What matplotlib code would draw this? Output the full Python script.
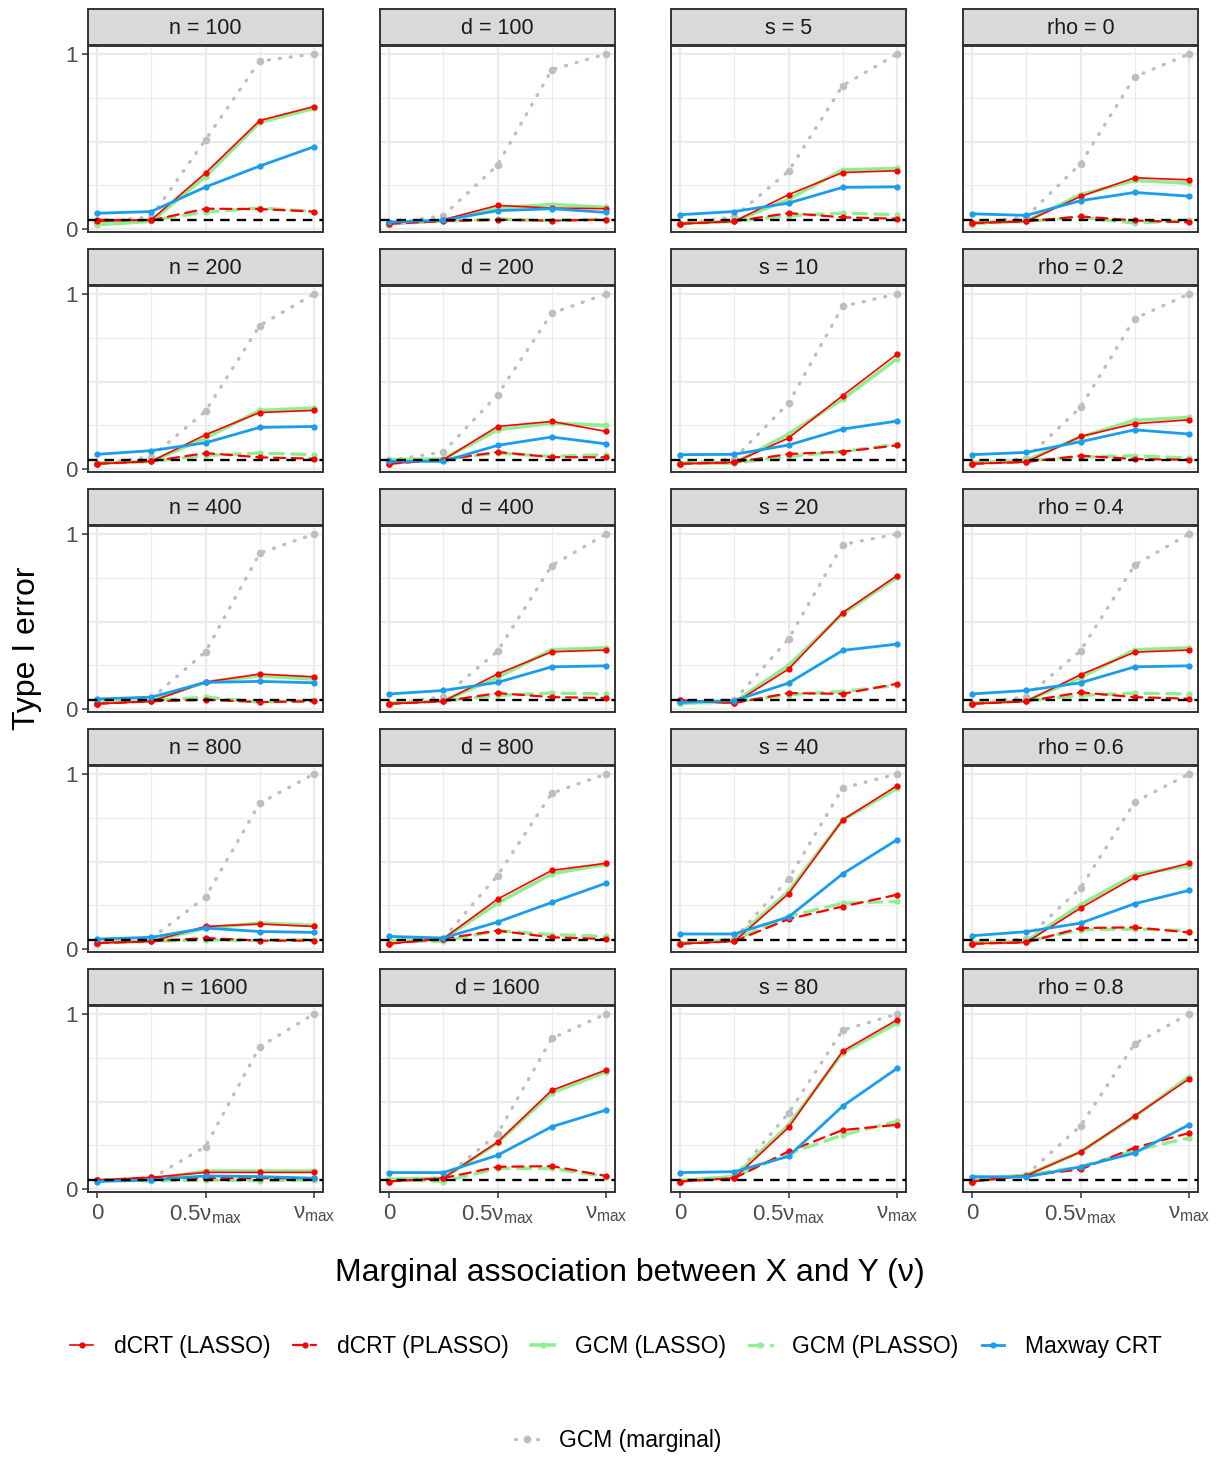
import matplotlib
matplotlib.use("Agg")
import matplotlib.pyplot as plt
from matplotlib.lines import Line2D

plt.rcParams['font.family'] = ['Liberation Sans', 'DejaVu Sans']
plt.rcParams['mathtext.fontset'] = 'custom'
plt.rcParams['mathtext.rm'] = 'Liberation Sans'

# x positions (fraction of nu_max)
nu = [0, 0.25, 0.5, 0.75, 1]
x_tick_labels = ['0', '0.5ν$_{\\mathregular{max}}$', 'ν$_{\\mathregular{max}}$']

facet_labels = [
    'n = 100', 'd = 100', 's = 5', 'rho = 0',
    'n = 200', 'd = 200', 's = 10', 'rho = 0.2',
    'n = 400', 'd = 400', 's = 20', 'rho = 0.4',
    'n = 800', 'd = 800', 's = 40', 'rho = 0.6',
    'n = 1600', 'd = 1600', 's = 80', 'rho = 0.8',
]

dcrt_lasso = [
    [0.044, 0.053, 0.32, 0.62, 0.70], [0.034, 0.053, 0.135, 0.12, 0.116],
    [0.03, 0.044, 0.196, 0.323, 0.333], [0.034, 0.044, 0.186, 0.293, 0.281],
    [0.03, 0.044, 0.196, 0.323, 0.335], [0.03, 0.053, 0.243, 0.272, 0.215],
    [0.03, 0.038, 0.177, 0.42, 0.656], [0.03, 0.04, 0.186, 0.259, 0.281],
    [0.03, 0.044, 0.154, 0.20, 0.184], [0.03, 0.044, 0.20, 0.327, 0.337],
    [0.05, 0.034, 0.228, 0.551, 0.762], [0.03, 0.044, 0.196, 0.325, 0.337],
    [0.034, 0.044, 0.129, 0.143, 0.129], [0.03, 0.059, 0.285, 0.449, 0.49],
    [0.03, 0.044, 0.316, 0.738, 0.933], [0.03, 0.038, 0.234, 0.41, 0.49],
    [0.05, 0.067, 0.095, 0.095, 0.095], [0.043, 0.062, 0.268, 0.564, 0.68],
    [0.043, 0.062, 0.352, 0.788, 0.966], [0.043, 0.077, 0.212, 0.418, 0.629],
]
dcrt_plasso = [
    [0.053, 0.05, 0.116, 0.114, 0.10], [0.03, 0.045, 0.053, 0.048, 0.053],
    [0.03, 0.044, 0.091, 0.067, 0.059], [0.034, 0.044, 0.072, 0.049, 0.038],
    [0.03, 0.044, 0.091, 0.067, 0.059], [0.03, 0.053, 0.097, 0.068, 0.067],
    [0.03, 0.038, 0.086, 0.099, 0.135], [0.03, 0.04, 0.076, 0.057, 0.053],
    [0.03, 0.044, 0.053, 0.04, 0.044], [0.03, 0.044, 0.091, 0.068, 0.063],
    [0.05, 0.034, 0.091, 0.087, 0.144], [0.03, 0.044, 0.095, 0.068, 0.059],
    [0.034, 0.044, 0.063, 0.048, 0.048], [0.03, 0.059, 0.105, 0.067, 0.057],
    [0.03, 0.044, 0.171, 0.243, 0.31], [0.03, 0.038, 0.12, 0.124, 0.095],
    [0.05, 0.067, 0.062, 0.062, 0.062], [0.043, 0.062, 0.127, 0.131, 0.075],
    [0.043, 0.062, 0.215, 0.337, 0.367], [0.043, 0.077, 0.112, 0.236, 0.32],
]
gcm_lasso = [
    [0.025, 0.044, 0.30, 0.61, 0.69], [0.03, 0.05, 0.12, 0.14, 0.124],
    [0.034, 0.044, 0.17, 0.338, 0.346], [0.038, 0.044, 0.196, 0.278, 0.262],
    [0.034, 0.044, 0.177, 0.335, 0.348], [0.053, 0.057, 0.224, 0.262, 0.249],
    [0.034, 0.034, 0.20, 0.40, 0.63], [0.038, 0.049, 0.183, 0.278, 0.295],
    [0.038, 0.047, 0.154, 0.19, 0.171], [0.034, 0.047, 0.18, 0.338, 0.35],
    [0.034, 0.04, 0.249, 0.544, 0.753], [0.034, 0.047, 0.18, 0.338, 0.35],
    [0.038, 0.044, 0.12, 0.148, 0.135], [0.047, 0.059, 0.262, 0.43, 0.485],
    [0.034, 0.053, 0.329, 0.738, 0.918], [0.038, 0.044, 0.253, 0.424, 0.477],
    [0.05, 0.052, 0.103, 0.103, 0.103], [0.056, 0.062, 0.264, 0.549, 0.67],
    [0.047, 0.071, 0.365, 0.779, 0.948], [0.052, 0.08, 0.212, 0.414, 0.642],
]
gcm_plasso = [
    [0.034, 0.05, 0.097, 0.12, 0.10], [0.03, 0.045, 0.057, 0.048, 0.057],
    [0.03, 0.044, 0.076, 0.091, 0.082], [0.03, 0.044, 0.067, 0.034, 0.049],
    [0.034, 0.044, 0.078, 0.091, 0.082], [0.053, 0.057, 0.091, 0.072, 0.082],
    [0.034, 0.034, 0.072, 0.10, 0.141], [0.038, 0.049, 0.068, 0.076, 0.063],
    [0.038, 0.047, 0.068, 0.038, 0.051], [0.034, 0.047, 0.078, 0.091, 0.086],
    [0.034, 0.04, 0.082, 0.10, 0.135], [0.034, 0.047, 0.078, 0.091, 0.086],
    [0.038, 0.044, 0.053, 0.048, 0.053], [0.047, 0.044, 0.105, 0.082, 0.072],
    [0.034, 0.053, 0.186, 0.262, 0.272], [0.038, 0.044, 0.11, 0.114, 0.105],
    [0.05, 0.047, 0.052, 0.048, 0.052], [0.056, 0.043, 0.118, 0.118, 0.071],
    [0.047, 0.071, 0.202, 0.309, 0.386], [0.052, 0.08, 0.127, 0.221, 0.292],
]
maxway_crt = [
    [0.09, 0.10, 0.24, 0.36, 0.47], [0.04, 0.05, 0.105, 0.116, 0.095],
    [0.082, 0.10, 0.148, 0.238, 0.241], [0.087, 0.078, 0.162, 0.209, 0.188],
    [0.084, 0.105, 0.15, 0.238, 0.243], [0.044, 0.044, 0.135, 0.183, 0.144],
    [0.082, 0.084, 0.137, 0.228, 0.274], [0.082, 0.095, 0.156, 0.224, 0.20],
    [0.057, 0.068, 0.152, 0.158, 0.15], [0.086, 0.106, 0.152, 0.241, 0.247],
    [0.038, 0.048, 0.148, 0.335, 0.371], [0.086, 0.106, 0.15, 0.241, 0.247],
    [0.057, 0.067, 0.12, 0.10, 0.095], [0.072, 0.063, 0.154, 0.266, 0.376],
    [0.086, 0.086, 0.183, 0.43, 0.624], [0.076, 0.099, 0.148, 0.259, 0.335],
    [0.043, 0.052, 0.075, 0.071, 0.062], [0.094, 0.094, 0.193, 0.356, 0.451],
    [0.094, 0.099, 0.187, 0.474, 0.689], [0.071, 0.069, 0.127, 0.206, 0.367],
]
gcm_marginal = [
    [0.04, 0.07, 0.51, 0.96, 1.0], [0.03, 0.076, 0.365, 0.91, 1.0],
    [0.03, 0.07, 0.33, 0.82, 1.0], [0.03, 0.07, 0.373, 0.87, 1.0],
    [0.03, 0.07, 0.33, 0.82, 1.0], [0.05, 0.097, 0.424, 0.89, 1.0],
    [0.03, 0.06, 0.376, 0.93, 1.0], [0.03, 0.06, 0.352, 0.86, 1.0],
    [0.03, 0.06, 0.327, 0.89, 1.0], [0.03, 0.07, 0.33, 0.82, 1.0],
    [0.04, 0.05, 0.40, 0.94, 1.0], [0.03, 0.07, 0.333, 0.823, 1.0],
    [0.03, 0.06, 0.297, 0.833, 1.0], [0.04, 0.06, 0.42, 0.89, 1.0],
    [0.03, 0.06, 0.40, 0.92, 1.0], [0.03, 0.06, 0.348, 0.84, 1.0],
    [0.05, 0.06, 0.243, 0.813, 1.0], [0.05, 0.06, 0.315, 0.861, 1.0],
    [0.04, 0.07, 0.433, 0.908, 1.0], [0.04, 0.08, 0.361, 0.83, 1.0],
]
alpha_level = 0.05

RED, GREEN, BLUE, GREY = '#FF0000', '#90EE90', '#1A9CEF', '#BEBEBE'

# (label, data, color, linestyle, linewidth, markersize, zorder)
series = [
    ('GCM (marginal)', gcm_marginal, GREY, (0, (0.3, 3.0)), 2.4, 5.5, 2),
    ('GCM (LASSO)', gcm_lasso, GREEN, '-', 2.6, 4.5, 3),
    ('GCM (PLASSO)', gcm_plasso, GREEN, (0, (4, 2.5)), 2.4, 4.5, 3),
    ('dCRT (LASSO)', dcrt_lasso, RED, '-', 1.2, 4.5, 4),
    ('dCRT (PLASSO)', dcrt_plasso, RED, (0, (5, 3)), 1.6, 4.5, 4),
    ('Maxway CRT', maxway_crt, BLUE, '-', 2.0, 4.5, 5),
]

W, H = 1221, 1458
fig = plt.figure(figsize=(W / 100, H / 100), dpi=100)

col_left = [88, 380, 671, 963]
panel_w = 235
row_top = [46, 286, 526, 766, 1006]
panel_h = 186
strip_h = 36

for i, label in enumerate(facet_labels):
    r, c = divmod(i, 4)
    x0, y0 = col_left[c], row_top[r]
    ax = fig.add_axes([x0 / W, 1 - (y0 + panel_h) / H, panel_w / W, panel_h / H])
    ax.set_xlim(-0.042, 1.042)
    ax.set_ylim(-0.017, 1.046)
    for g in [0.25, 0.75]:
        ax.axvline(g, color='#EBEBEB', lw=0.8, zorder=0)
        ax.axhline(g, color='#EBEBEB', lw=0.8, zorder=0)
    for g in [0, 0.5, 1]:
        ax.axvline(g, color='#EBEBEB', lw=1.6, zorder=0)
        ax.axhline(g, color='#EBEBEB', lw=1.6, zorder=0)
    for name, data, col, ls, lw, ms, z in series:
        ax.plot(nu, data[i], color=col, linestyle=ls, lw=lw, marker='o',
                ms=ms, mec='none', zorder=z, dash_capstyle='round')
    ax.axhline(alpha_level, color='black', linestyle=(0, (4, 3)), lw=1.7, zorder=6)

    for sp in ax.spines.values():
        sp.set_color('#333333')
        sp.set_linewidth(1.4)
    ax.set_yticks([0, 1])
    ax.set_xticks([0, 0.5, 1])
    ax.tick_params(colors='#333333', length=4, width=1.1, labelsize=16,
                   labelcolor='#4D4D4D')
    if c == 0:
        ax.set_yticklabels(['0', '1'])
    else:
        ax.tick_params(axis='y', length=0, labelleft=False)
    if r == 4:
        ax.set_xticklabels(x_tick_labels)
        ax.tick_params(axis='x', pad=4)
    else:
        ax.tick_params(axis='x', length=0, labelbottom=False)

    sax = fig.add_axes([x0 / W, 1 - (y0 - 1) / H, panel_w / W, strip_h / H])
    sax.set_facecolor('#D9D9D9')
    sax.set_xticks([])
    sax.set_yticks([])
    for sp in sax.spines.values():
        sp.set_color('#333333')
        sp.set_linewidth(1.4)
    sax.text(0.5, 0.45, label, ha='center', va='center', fontsize=15.5,
             color='#1A1A1A', transform=sax.transAxes)

fig.text(27 / W, 1 - 648 / H, 'Type I error', rotation=90, ha='center',
         va='center', fontsize=23)
fig.text(630 / W, 1 - 1273 / H, 'Marginal association between X and Y (ν)',
         ha='center', va='center', fontsize=23)

handles = {}
for name, data, col, ls, lw, ms, z in series:
    handles[name] = Line2D([], [], color=col, linestyle=ls, lw=lw, marker='o',
                           ms=ms, mec='none', dash_capstyle='round')
order = ['dCRT (LASSO)', 'dCRT (PLASSO)', 'GCM (LASSO)', 'GCM (PLASSO)', 'Maxway CRT']
fig.legend([handles[k] for k in order], order, loc='center',
           bbox_to_anchor=(616 / W, 1 - 1347 / H), ncol=5, frameon=False,
           fontsize=16.5, handlelength=1.0, handletextpad=0.9, columnspacing=1.0)
fig.legend([handles['GCM (marginal)']], ['GCM (marginal)'], loc='center',
           bbox_to_anchor=(618 / W, 1 - 1441 / H), frameon=False,
           fontsize=16.5, handlelength=1.0, handletextpad=0.9)

fig.savefig('out.png', dpi=100)
